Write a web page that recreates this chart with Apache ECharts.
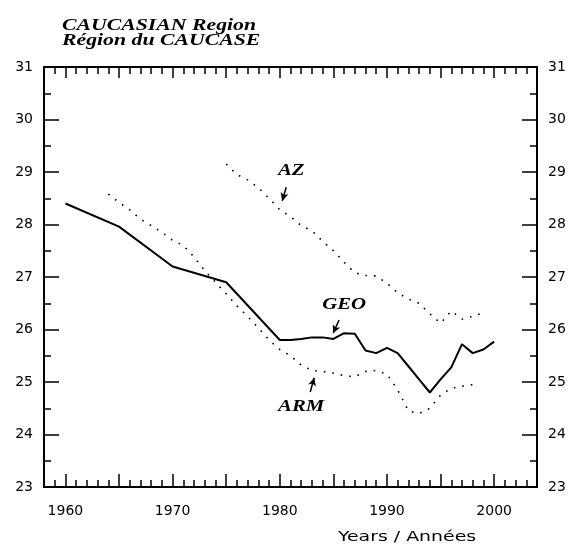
<!DOCTYPE html>
<html><head><meta charset="utf-8">
<script src="https://cdn.jsdelivr.net/npm/echarts@6/dist/echarts.min.js"></script>
<style>html,body{margin:0;padding:0;background:#fff}#c{width:570px;height:547px}</style>
</head><body><div id="c"></div>
<script>
var geoYears = [1960,1965,1970,1975,1980,1981,1982,1983,1984,1985,1986,1987,1988,1989,1990,1991,1992,1993,1994,1995,1996,1997,1998,1999,2000];
var geoValues = [28.4,27.96,27.2,26.9,25.8,25.8,25.82,25.85,25.85,25.82,25.93,25.92,25.6,25.55,25.65,25.55,25.3,25.05,24.8,25.05,25.28,25.72,25.55,25.62,25.77];
var azYears = [1975,1976,1977,1978,1979,1980,1981,1982,1983,1984,1985,1986,1987,1988,1989,1990,1991,1992,1993,1994,1995,1996,1997,1998,1999];
var azValues = [29.15,28.95,28.85,28.7,28.5,28.28,28.15,27.98,27.88,27.68,27.5,27.28,27.08,27.03,27.02,26.88,26.7,26.58,26.5,26.3,26.12,26.35,26.2,26.25,26.32];
var armYears = [1964,1965,1966,1967,1968,1969,1970,1971,1972,1973,1974,1975,1976,1977,1978,1979,1980,1981,1982,1983,1984,1985,1986,1987,1988,1989,1990,1991,1992,1993,1994,1995,1996,1997,1998];
var armValues = [28.58,28.42,28.28,28.1,27.98,27.85,27.7,27.6,27.38,27.12,26.9,26.68,26.45,26.25,26.03,25.8,25.62,25.5,25.32,25.22,25.2,25.17,25.12,25.1,25.2,25.22,25.15,24.85,24.45,24.4,24.5,24.75,24.88,24.92,24.95];
var xLabels = [1960,1970,1980,1990,2000];
var yLabels = [23,24,25,26,27,28,29,30,31];
var titleLines = ['CAUCASIAN Region','Région du CAUCASE'];
var axisTitle = 'Years / Années';
var annotations = [
  {text:'AZ', at:[1981.07,29.02], from:[1980.6,28.71], to:[1980.23,28.45]},
  {text:'GEO', at:[1986.0,26.47], from:[1985.53,26.18], to:[1984.98,25.93]},
  {text:'ARM', at:[1982.0,24.52], from:[1982.84,24.81], to:[1983.21,25.08]}
];

function zip(a,b){return a.map(function(v,i){return [v,b[i]];});}
var yearTicks=[]; for(var y=1959;y<=2003;y++) yearTicks.push(y);
var fiveTicks=[]; for(var y=1960;y<=2000;y+=5) fiveTicks.push(y);
var halfTicks=[]; for(var v=23.5;v<31;v+=1) halfTicks.push(v);

var chart = echarts.init(document.getElementById('c'));
var black='#000';
var labFont={color:black,fontFamily:'DejaVu Sans',fontSize:14,formatter:function(v){return String(v);}};
function xAx(pos,ticks,len,labels,line){
  return {type:'value',min:1958,max:2004,position:pos,
    axisLine:{show:line,onZero:false,lineStyle:{color:black,width:2}},
    axisTick:{show:true,inside:true,length:len,customValues:ticks,lineStyle:{color:black,width:1.5}},
    axisLabel:labels?Object.assign({show:true,margin:17,customValues:xLabels},labFont):{show:false},
    splitLine:{show:false}};
}
function yAx(pos,ticks,len,labels,line){
  return {type:'value',min:23,max:31,position:pos,
    axisLine:{show:line,onZero:false,lineStyle:{color:black,width:2}},
    axisTick:{show:true,inside:true,length:len,customValues:ticks,lineStyle:{color:black,width:1.5}},
    axisLabel:labels?Object.assign({show:true,margin:11,customValues:yLabels},labFont):{show:false},
    splitLine:{show:false}};
}
var dotted={color:black,width:1.6,type:[1.6,7]};
var option={
  animation:false,
  grid:{left:44,right:33,top:67,bottom:60,containLabel:false},
  xAxis:[xAx('bottom',yearTicks,7,true,true),xAx('bottom',fiveTicks,13,false,false),
         xAx('top',yearTicks,7,false,true),xAx('top',fiveTicks,11,false,false)],
  yAxis:[yAx('left',yLabels,15,true,true),yAx('left',halfTicks,7,false,false),
         yAx('right',yLabels,15,true,true),yAx('right',halfTicks,7,false,false)],
  series:[
    {type:'line',data:zip(geoYears,geoValues),showSymbol:false,lineStyle:{color:black,width:2},
     markLine:{silent:true,symbol:['none','arrow'],symbolSize:[6,8],label:{show:false},
       lineStyle:{color:black,width:1.5,type:'solid'},
       data:annotations.map(function(a){return [{coord:a.from},{coord:a.to}];})}},
    {type:'line',data:zip(azYears,azValues),showSymbol:false,lineStyle:dotted},
    {type:'line',data:zip(armYears,armValues),showSymbol:false,lineStyle:dotted}
  ]
};
chart.setOption(option);
var g=[];
titleLines.forEach(function(t,i){
  g.push({type:'text',x:62,y:26+i*15,scaleX:1.28,originX:0,
    style:{text:t,fill:black,font:'bold italic 17px "Liberation Serif"',verticalAlign:'middle'}});
});
annotations.forEach(function(a){
  var p=chart.convertToPixel({xAxisIndex:0,yAxisIndex:0},a.at);
  g.push({type:'text',x:p[0],y:p[1],scaleX:1.3,
    style:{text:a.text,fill:black,font:'bold italic 16px "Liberation Serif"',align:'center',verticalAlign:'middle'}});
});
g.push({type:'text',x:407,y:537,scaleX:1.35,
  style:{text:axisTitle,fill:black,font:'14px "DejaVu Sans"',align:'center',verticalAlign:'middle'}});
chart.setOption({graphic:g});
</script></body></html>
